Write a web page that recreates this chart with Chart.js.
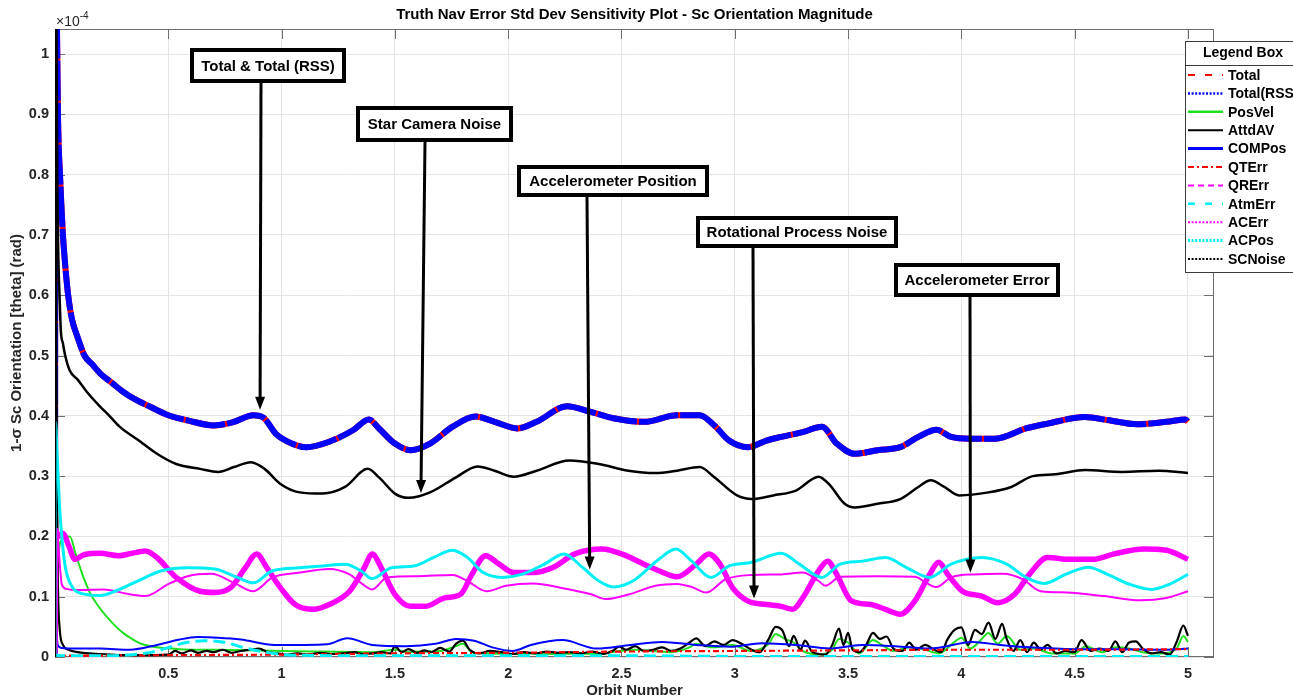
<!DOCTYPE html>
<html>
<head>
<meta charset="utf-8">
<script src="https://cdn.jsdelivr.net/npm/chart.js@4.4.1/dist/chart.umd.min.js"></script>
<style>
  html, body { margin: 0; padding: 0; background: #fff; overflow: hidden; }
  #wrap { position: relative; width: 1293px; height: 698px; }
</style>
</head>
<body>
<div id="wrap"><canvas id="c" width="1293" height="698"></canvas></div>
<script>
// ---- tick labels (orientation std dev in units of 1e-4 rad) ----
const xTicks = [0.5, 1, 1.5, 2, 2.5, 3, 3.5, 4, 4.5, 5];
const yTicks = [0, 0.1, 0.2, 0.3, 0.4, 0.5, 0.6, 0.7, 0.8, 0.9, 1];

// ---- Total / Total(RSS) ----
const totalX = [0, 0.002, 0.006, 0.01, 0.013, 0.017, 0.022, 0.028, 0.035, 0.045, 0.058, 0.075, 0.1, 0.13, 0.165, 0.2, 0.25, 0.3, 0.35, 0.42,
  0.5, 0.59, 0.7, 0.79, 0.875, 0.92, 0.975, 1.045, 1.11, 1.21, 1.315, 1.385, 1.43, 1.5, 1.57, 1.655, 1.755, 1.855, 1.94, 2.04,
  2.125, 2.26, 2.36, 2.465, 2.6, 2.745, 2.845, 2.91, 2.975, 3.057, 3.14, 3.205, 3.3, 3.385, 3.45, 3.53, 3.63, 3.73, 3.81, 3.89,
  3.955, 4.04, 4.15, 4.285, 4.38, 4.545, 4.645, 4.775, 4.905, 4.99, 5.0];
const totalY = [0, 1.4, 1.15, 1.0, 0.9, 0.84, 0.8, 0.75, 0.7, 0.65, 0.6, 0.56, 0.53, 0.5, 0.485, 0.47, 0.455, 0.44, 0.428, 0.415,
  0.401, 0.392, 0.384, 0.39, 0.401, 0.397, 0.37, 0.354, 0.348, 0.357, 0.376, 0.394, 0.379, 0.354, 0.343, 0.354, 0.382, 0.399, 0.39, 0.379,
  0.39, 0.416, 0.407, 0.396, 0.39, 0.401, 0.401, 0.384, 0.359, 0.348, 0.359, 0.365, 0.373, 0.382, 0.354, 0.337, 0.343, 0.348, 0.365, 0.377,
  0.365, 0.362, 0.362, 0.379, 0.387, 0.398, 0.393, 0.386, 0.39, 0.394, 0.39];

// ---- PosVel ----
const posVelX = [0.002, 0.02, 0.04, 0.066, 0.09, 0.12, 0.155, 0.19, 0.23, 0.27, 0.3, 0.34, 0.38, 0.45, 0.55, 0.7, 0.85, 1.0, 1.2, 1.4,
  1.5, 1.56, 1.62, 1.7, 1.77, 1.8, 1.84, 1.9, 2.0, 2.1, 2.2, 2.3, 2.4, 2.49, 2.56, 2.64, 2.72, 2.8, 2.83, 2.9,
  2.99, 3.07, 3.15, 3.18, 3.22, 3.26, 3.3, 3.37, 3.43, 3.46, 3.5, 3.55, 3.61, 3.65, 3.7, 3.77, 3.84, 3.9, 3.97, 4.0,
  4.04, 4.09, 4.12, 4.16, 4.2, 4.26, 4.32, 4.4, 4.5, 4.55, 4.62, 4.68, 4.74, 4.8, 4.88, 4.95, 4.98, 5.0];
const posVelY = [0.1, 0.185, 0.198, 0.2, 0.172, 0.138, 0.106, 0.085, 0.066, 0.05, 0.04, 0.03, 0.022, 0.016, 0.013, 0.012, 0.011, 0.01, 0.009, 0.008,
  0.012, 0.008, 0.009, 0.01, 0.018, 0.022, 0.008, 0.006, 0.005, 0.006, 0.005, 0.006, 0.005, 0.01, 0.012, 0.01, 0.008, 0.016, 0.022, 0.016,
  0.02, 0.01, 0.022, 0.038, 0.03, 0.024, 0.01, 0.004, 0.012, 0.03, 0.024, 0.006, 0.028, 0.02, 0.01, 0.016, 0.012, 0.006, 0.025, 0.032,
  0.014, 0.03, 0.04, 0.022, 0.035, 0.012, 0.014, 0.006, 0.006, 0.018, 0.008, 0.016, 0.014, 0.008, 0.006, 0.014, 0.035, 0.025];

// ---- AttdAV ----
const attdX = [0, 0.002, 0.006, 0.012, 0.02, 0.035, 0.06, 0.1, 0.2, 0.35,
  0.5, 0.53, 0.56, 0.6, 0.63, 0.67, 0.7, 0.74, 0.78, 0.82,
  0.86, 0.9, 0.94, 0.98, 1.02, 1.07, 1.12, 1.17, 1.22, 1.27,
  1.32, 1.36, 1.4, 1.44, 1.48, 1.5, 1.53, 1.56, 1.6, 1.63,
  1.66, 1.7, 1.74, 1.77, 1.8, 1.83, 1.87, 1.92, 1.97, 2.02,
  2.07, 2.12, 2.17, 2.22, 2.27, 2.32, 2.37, 2.42, 2.46, 2.49,
  2.52, 2.56, 2.6, 2.64, 2.68, 2.72, 2.76, 2.8, 2.83, 2.87,
  2.91, 2.95, 2.99, 3.03, 3.07, 3.11, 3.15, 3.18, 3.21, 3.24,
  3.26, 3.29, 3.31, 3.34, 3.37, 3.4, 3.43, 3.46, 3.48, 3.5,
  3.52, 3.55, 3.58, 3.61, 3.64, 3.67, 3.7, 3.74, 3.77, 3.8,
  3.84, 3.88, 3.91, 3.94, 3.97, 4.0, 4.03, 4.06, 4.09, 4.12,
  4.15, 4.18, 4.2, 4.23, 4.26, 4.29, 4.32, 4.35, 4.38, 4.42,
  4.46, 4.5, 4.53, 4.57, 4.61, 4.65, 4.68, 4.71, 4.74, 4.77,
  4.8, 4.84, 4.88, 4.92, 4.95, 4.98, 5.0];
const attdY = [0, 1.3, 0.5, 0.15, 0.05, 0.02, 0.012, 0.008, 0.005, 0.003,
  0.004, 0.01, 0.006, 0.011, 0.007, 0.01, 0.008, 0.012, 0.007, 0.01,
  0.012, 0.014, 0.008, 0.006, 0.004, 0.006, 0.004, 0.007, 0.005, 0.006,
  0.008, 0.005, 0.006, 0.008, 0.006, 0.018, 0.008, 0.013, 0.007, 0.011,
  0.008, 0.015, 0.009, 0.022, 0.027, 0.012, 0.006, 0.01, 0.008, 0.005,
  0.008, 0.006, 0.009, 0.007, 0.008, 0.006, 0.009, 0.005, 0.01, 0.017,
  0.012, 0.018, 0.01, 0.012, 0.016, 0.01, 0.014, 0.024, 0.031, 0.018,
  0.026, 0.02, 0.028, 0.022, 0.013, 0.008, 0.03, 0.05, 0.044, 0.018,
  0.035, 0.012, 0.027, 0.009, 0.005, 0.004, 0.02, 0.047, 0.02, 0.04,
  0.012, 0.008, 0.02, 0.04, 0.03, 0.034, 0.014, 0.01, 0.024, 0.012,
  0.02, 0.012, 0.008, 0.03, 0.045, 0.049, 0.02, 0.045, 0.038, 0.057,
  0.03, 0.055, 0.03, 0.01, 0.028, 0.008, 0.024, 0.012, 0.02, 0.006,
  0.01, 0.008, 0.028, 0.01, 0.014, 0.01, 0.026, 0.008, 0.024, 0.026,
  0.014, 0.006, 0.008, 0.004, 0.025, 0.052, 0.035];

// ---- COMPos ----
const comX = [0, 0.003, 0.012, 0.03, 0.1, 0.2, 0.33, 0.45, 0.55, 0.63, 0.72, 0.82, 0.97, 1.1, 1.2, 1.29, 1.4, 1.55, 1.68, 1.77,
  1.85, 1.93, 2.02, 2.1, 2.24, 2.39, 2.54, 2.68, 2.83, 2.98, 3.12, 3.27, 3.42, 3.56, 3.71, 3.86, 4.05, 4.17, 4.3, 4.5,
  4.7, 4.9, 5.0];
const comY = [0, 0.05, 0.02, 0.015, 0.014, 0.014, 0.012, 0.02, 0.029, 0.033, 0.032, 0.029, 0.02, 0.02, 0.021, 0.031, 0.02, 0.018, 0.022, 0.03,
  0.027, 0.016, 0.01, 0.02, 0.028, 0.014, 0.02, 0.025, 0.02, 0.017, 0.023, 0.02, 0.014, 0.02, 0.018, 0.014, 0.025, 0.02, 0.016, 0.013,
  0.013, 0.012, 0.014];

// ---- QTErr ----
const qtX = [0, 0.5, 1, 1.5, 2, 2.5, 3, 3.5, 4, 4.5, 5];
const qtY = [0.002, 0.003, 0.004, 0.006, 0.007, 0.009, 0.01, 0.011, 0.012, 0.012, 0.013];

// ---- QRErr ----
const qrX = [0, 0.004, 0.015, 0.035, 0.06, 0.088, 0.13, 0.2, 0.28, 0.34, 0.4, 0.45, 0.535, 0.64, 0.705, 0.775, 0.84, 0.89, 0.935, 0.995,
  1.06, 1.14, 1.21, 1.3, 1.365, 1.4, 1.44, 1.5, 1.57, 1.635, 1.72, 1.79, 1.84, 1.9, 1.96, 2.025, 2.11, 2.195, 2.295, 2.415,
  2.5, 2.6, 2.665, 2.745, 2.83, 2.885, 2.935, 2.99, 3.057, 3.14, 3.205, 3.255, 3.3, 3.37, 3.41, 3.45, 3.515, 3.6, 3.665, 3.73,
  3.795, 3.86, 3.9, 3.94, 4.005, 4.09, 4.16, 4.235, 4.3, 4.38, 4.48, 4.58, 4.675, 4.805, 4.905, 5.0];
const qrY = [0, 0.21, 0.2, 0.205, 0.185, 0.162, 0.17, 0.172, 0.168, 0.172, 0.176, 0.165, 0.132, 0.109, 0.107, 0.115, 0.148, 0.171, 0.148, 0.115,
  0.087, 0.079, 0.087, 0.109, 0.148, 0.171, 0.148, 0.104, 0.084, 0.084, 0.098, 0.104, 0.137, 0.168, 0.154, 0.14, 0.14, 0.148, 0.171, 0.179,
  0.171, 0.154, 0.143, 0.133, 0.154, 0.171, 0.154, 0.115, 0.093, 0.087, 0.084, 0.079, 0.098, 0.143, 0.159, 0.137, 0.093, 0.087, 0.079, 0.071,
  0.093, 0.137, 0.157, 0.137, 0.109, 0.101, 0.09, 0.104, 0.137, 0.165, 0.162, 0.162, 0.171, 0.179, 0.177, 0.162];

// ---- AtmErr ----
const atmX = [0, 0.003, 0.01, 0.05, 0.2, 0.35, 0.45, 0.52, 0.58, 0.66, 0.74, 0.84, 0.93, 1.05, 1.5, 2, 2.5, 3, 3.5, 4, 4.5, 5];
const atmY = [0, 0.004, 0.003, 0.002, 0.002, 0.004, 0.01, 0.018, 0.024, 0.027, 0.025, 0.015, 0.008, 0.003, 0.002, 0.002, 0.002, 0.001, 0.001, 0.001, 0.001, 0.001];

// ---- ACErr ----
const acErrX = [0, 0.004, 0.012, 0.02, 0.03, 0.05, 0.1, 0.215, 0.33, 0.4, 0.5, 0.585, 0.69, 0.79, 0.875, 0.96, 1.08, 1.21, 1.3, 1.35,
  1.4, 1.465, 1.6, 1.755, 1.82, 1.905, 1.99, 2.11, 2.23, 2.365, 2.43, 2.535, 2.65, 2.745, 2.81, 2.875, 2.96, 3.075, 3.205, 3.3,
  3.37, 3.4, 3.465, 3.63, 3.795, 3.845, 3.89, 3.955, 4.055, 4.185, 4.27, 4.35, 4.465, 4.63, 4.79, 4.905, 5.0];
const acErrY = [0, 0.21, 0.2, 0.16, 0.12, 0.113, 0.111, 0.112, 0.104, 0.101, 0.121, 0.134, 0.138, 0.123, 0.109, 0.132, 0.14, 0.146, 0.137, 0.123,
  0.112, 0.132, 0.134, 0.136, 0.126, 0.109, 0.118, 0.122, 0.115, 0.104, 0.096, 0.104, 0.118, 0.121, 0.116, 0.107, 0.129, 0.136, 0.137, 0.14,
  0.126, 0.118, 0.133, 0.134, 0.133, 0.123, 0.116, 0.132, 0.137, 0.138, 0.129, 0.109, 0.107, 0.101, 0.094, 0.098, 0.109];

// ---- ACPos ----
const acPosX = [0, 0.002, 0.01, 0.02, 0.03, 0.045, 0.07, 0.12, 0.2, 0.265, 0.365, 0.47, 0.585, 0.705, 0.805, 0.875, 0.96, 1.08, 1.18, 1.28,
  1.35, 1.4, 1.485, 1.585, 1.67, 1.755, 1.82, 1.89, 1.975, 2.06, 2.16, 2.245, 2.33, 2.4, 2.465, 2.55, 2.665, 2.74, 2.81, 2.895,
  2.975, 3.075, 3.205, 3.285, 3.385, 3.465, 3.565, 3.665, 3.76, 3.86, 3.955, 4.09, 4.2, 4.285, 4.365, 4.46, 4.56, 4.645, 4.74, 4.84,
  4.92, 5.0];
const acPosY = [0, 0.39, 0.33, 0.25, 0.2, 0.15, 0.12, 0.105, 0.102, 0.109, 0.126, 0.143, 0.148, 0.146, 0.132, 0.123, 0.143, 0.148, 0.151, 0.154,
  0.143, 0.13, 0.148, 0.151, 0.165, 0.177, 0.165, 0.14, 0.132, 0.137, 0.154, 0.171, 0.148, 0.126, 0.116, 0.126, 0.162, 0.179, 0.159, 0.132,
  0.151, 0.157, 0.172, 0.154, 0.132, 0.154, 0.159, 0.165, 0.148, 0.132, 0.154, 0.165, 0.154, 0.132, 0.122, 0.137, 0.149, 0.137, 0.121, 0.112,
  0.121, 0.137];

// ---- SCNoise ----
const scX = [0, 0.002, 0.006, 0.01, 0.015, 0.02, 0.026, 0.035, 0.045, 0.065, 0.1, 0.14, 0.2, 0.24, 0.285, 0.37, 0.45, 0.535, 0.64, 0.72,
  0.79, 0.865, 0.925, 0.995, 1.08, 1.18, 1.28, 1.38, 1.43, 1.5, 1.56, 1.655, 1.77, 1.865, 1.94, 2.025, 2.125, 2.27, 2.4, 2.53,
  2.65, 2.745, 2.845, 2.91, 3.01, 3.075, 3.17, 3.27, 3.37, 3.415, 3.485, 3.53, 3.63, 3.73, 3.81, 3.865, 3.925, 3.99, 4.12, 4.22,
  4.315, 4.415, 4.545, 4.71, 4.87, 5.0];
const scY = [0, 1.4, 1.1, 0.8, 0.66, 0.6, 0.54, 0.52, 0.5, 0.475, 0.46, 0.44, 0.415, 0.4, 0.382, 0.359, 0.337, 0.32, 0.312, 0.307,
  0.315, 0.323, 0.312, 0.287, 0.273, 0.271, 0.282, 0.312, 0.298, 0.271, 0.264, 0.273, 0.298, 0.316, 0.309, 0.299, 0.309, 0.326, 0.32, 0.309,
  0.305, 0.309, 0.315, 0.298, 0.268, 0.262, 0.268, 0.276, 0.299, 0.287, 0.254, 0.248, 0.254, 0.262, 0.282, 0.293, 0.282, 0.268, 0.273, 0.282,
  0.3, 0.303, 0.31, 0.307, 0.309, 0.305];

// ---- callout labels and the points they mark (data units) ----
const calloutLabels = ['Total & Total (RSS)', 'Star Camera Noise', 'Accelerometer Position', 'Rotational Process Noise', 'Accelerometer Error'];
const calloutTargetX = [0.905, 1.615, 2.36, 3.085, 4.04];
const calloutTargetY = [0.41, 0.272, 0.145, 0.097, 0.14];

// ---- drawing styles ----
const FONT = '"Liberation Sans", Arial, Helvetica, sans-serif';
const INK = '#262626';
const RED = '#ff0000', BLUE = '#0000ff', GREEN = '#1fe01f', BLACK = '#000000', MAGENTA = '#ff00ff', CYAN = '#00eef5';
const DOT = [2, 1.6];

const series = [
  { name: 'Total',      xs: totalX,  ys: totalY,  color: RED,     width: 6,   dash: [],        lDash: [7, 10],      lWidth: 2 },
  { name: 'Total(RSS)', xs: totalX,  ys: totalY,  color: BLUE,    width: 6,   dash: [40, 2],   lDash: DOT,          lWidth: 2.5 },
  { name: 'PosVel',     xs: posVelX, ys: posVelY, color: GREEN,   width: 2,   dash: [],        lDash: [],           lWidth: 2.5 },
  { name: 'AttdAV',     xs: attdX,   ys: attdY,   color: BLACK,   width: 2.2, dash: [],        lDash: [],           lWidth: 2 },
  { name: 'COMPos',     xs: comX,    ys: comY,    color: BLUE,    width: 2,   dash: [],        lDash: [],           lWidth: 3 },
  { name: 'QTErr',      xs: qtX,     ys: qtY,     color: RED,     width: 2.2, dash: [6, 3, 2, 3], lDash: [6, 3, 2, 3], lWidth: 2 },
  { name: 'QRErr',      xs: qrX,     ys: qrY,     color: MAGENTA, width: 5.5, dash: [],        lDash: [6, 4],       lWidth: 2 },
  { name: 'AtmErr',     xs: atmX,    ys: atmY,    color: CYAN,    width: 3,   dash: [12, 6],   lDash: [7, 10],      lWidth: 2.5 },
  { name: 'ACErr',      xs: acErrX,  ys: acErrY,  color: MAGENTA, width: 2,   dash: [],        lDash: DOT,          lWidth: 2 },
  { name: 'ACPos',      xs: acPosX,  ys: acPosY,  color: CYAN,    width: 3,   dash: [],        lDash: DOT,          lWidth: 3 },
  { name: 'SCNoise',    xs: scX,     ys: scY,     color: BLACK,   width: 2.5, dash: [],        lDash: DOT,          lWidth: 2 }
];

const datasets = series.map((s, i) => ({
  label: s.name,
  data: s.xs.map((x, k) => ({ x: x, y: s.ys[k] })),
  borderColor: s.color,
  borderWidth: s.width,
  borderDash: s.dash,
  cubicInterpolationMode: 'monotone',
  pointRadius: 0,
  fill: false,
  order: series.length - i
}));

const fmt = v => String(Math.round(v * 10) / 10);

// box, ticks, callouts, legend box, title
const decorations = {
  id: 'decorations',
  beforeDatasetsDraw(chart) {
    const { ctx, chartArea: a, scales: { x, y } } = chart;
    ctx.save();
    ctx.strokeStyle = '#6e6e6e';
    ctx.lineWidth = 1;
    ctx.strokeRect(a.left + 0.5, a.top + 0.5, a.right - a.left - 1, a.bottom - a.top - 1);
    ctx.beginPath();
    xTicks.forEach(v => {
      const p = Math.round(x.getPixelForValue(v)) + 0.5;
      ctx.moveTo(p, a.top); ctx.lineTo(p, a.top + 10);
      ctx.moveTo(p, a.bottom); ctx.lineTo(p, a.bottom - 10);
    });
    yTicks.forEach(v => {
      const p = Math.round(y.getPixelForValue(v)) + 0.5;
      ctx.moveTo(a.left, p); ctx.lineTo(a.left + 10, p);
      ctx.moveTo(a.right, p); ctx.lineTo(a.right - 10, p);
    });
    ctx.stroke();
    ctx.restore();
  },
  afterDatasetsDraw(chart) {
    const { ctx, scales: { x, y } } = chart;
    const boxes = [[190, 48, 156, 35], [356, 106, 157, 36], [517, 165, 192, 32], [696, 216, 202, 32], [894, 263, 166, 34]];
    const stemX = [261, 425, 587, 753, 970];
    ctx.save();
    calloutLabels.forEach((label, i) => {
      const [bx, by, bw, bh] = boxes[i];
      const tx = x.getPixelForValue(calloutTargetX[i]);
      const ty = y.getPixelForValue(calloutTargetY[i]);
      const sx = stemX[i], sy = by + bh;
      // arrow shaft
      const ang = Math.atan2(ty - sy, tx - sx);
      const headLen = 13, headHalf = 5;
      ctx.strokeStyle = '#000';
      ctx.lineWidth = 3;
      ctx.beginPath();
      ctx.moveTo(sx, sy);
      ctx.lineTo(tx - Math.cos(ang) * (headLen - 2), ty - Math.sin(ang) * (headLen - 2));
      ctx.stroke();
      // arrow head
      ctx.fillStyle = '#000';
      ctx.beginPath();
      ctx.moveTo(tx, ty);
      ctx.lineTo(tx - Math.cos(ang) * headLen - Math.sin(ang) * headHalf, ty - Math.sin(ang) * headLen + Math.cos(ang) * headHalf);
      ctx.lineTo(tx - Math.cos(ang) * headLen + Math.sin(ang) * headHalf, ty - Math.sin(ang) * headLen - Math.cos(ang) * headHalf);
      ctx.closePath();
      ctx.fill();
      // label box
      ctx.fillStyle = '#fff';
      ctx.fillRect(bx, by, bw, bh);
      ctx.lineWidth = 4;
      ctx.strokeRect(bx + 2, by + 2, bw - 4, bh - 4);
      ctx.fillStyle = '#000';
      ctx.font = 'bold 15px ' + FONT;
      ctx.textAlign = 'center';
      ctx.textBaseline = 'middle';
      ctx.fillText(label, bx + bw / 2, by + bh / 2 + 1);
    });
    ctx.restore();
  },
  afterDraw(chart) {
    const { ctx, chartArea: a } = chart;
    ctx.save();
    // legend box
    const lx = 1185, ly = 41, lw = 118, lh = 231;
    ctx.fillStyle = '#fff';
    ctx.fillRect(lx, ly, lw, lh);
    ctx.strokeStyle = '#3a3a3a';
    ctx.lineWidth = 1;
    ctx.strokeRect(lx + 0.5, ly + 0.5, lw, lh);
    ctx.beginPath();
    ctx.moveTo(lx, ly + 24.5); ctx.lineTo(lx + lw, ly + 24.5);
    ctx.stroke();
    ctx.fillStyle = '#000';
    ctx.font = 'bold 14px ' + FONT;
    ctx.textAlign = 'center';
    ctx.textBaseline = 'middle';
    ctx.fillText('Legend Box', lx + 58, ly + 12.5);
    ctx.textAlign = 'left';
    series.forEach((s, i) => {
      const yy = 75 + i * 18.4;
      ctx.strokeStyle = s.color;
      ctx.lineWidth = s.lWidth;
      ctx.setLineDash(s.lDash);
      ctx.beginPath();
      ctx.moveTo(lx + 3, yy); ctx.lineTo(lx + 38, yy);
      ctx.stroke();
      ctx.setLineDash([]);
      ctx.fillStyle = '#000';
      ctx.fillText(s.name, lx + 43, yy + 1);
    });
    // title
    ctx.fillStyle = '#000';
    ctx.font = 'bold 15px ' + FONT;
    ctx.textAlign = 'center';
    ctx.fillText('Truth Nav Error Std Dev Sensitivity Plot - Sc Orientation Magnitude', (a.left + a.right) / 2, 15);
    // axis exponent
    ctx.fillStyle = INK;
    ctx.textAlign = 'left';
    ctx.textBaseline = 'alphabetic';
    ctx.font = '14px ' + FONT;
    ctx.fillText('\u00d710', a.left + 1, 26);
    const w = ctx.measureText('\u00d710').width;
    ctx.font = '10px ' + FONT;
    ctx.fillText('-4', a.left + 1 + w, 19);
    ctx.restore();
  }
};

Chart.defaults.font.family = FONT;

new Chart(document.getElementById('c'), {
  type: 'line',
  data: { datasets: datasets },
  options: {
    responsive: false,
    animation: false,
    devicePixelRatio: 1,
    layout: { padding: { top: 29, right: 79, left: 0, bottom: 0 } },
    plugins: { legend: { display: false }, tooltip: { enabled: false }, title: { display: false } },
    elements: { point: { radius: 0 } },
    scales: {
      x: {
        type: 'linear', min: 0, max: 5.115,
        afterBuildTicks: s => { s.ticks = xTicks.map(v => ({ value: v })); },
        afterFit: s => { s.height = 41; },
        grid: { color: '#e4e4e4', drawTicks: false },
        border: { display: false },
        ticks: { padding: 8, color: INK, autoSkip: false, maxRotation: 0, font: { size: 14.5, weight: 'bold' }, callback: v => fmt(v) },
        title: { display: true, text: 'Orbit Number', color: INK, font: { size: 15, weight: 'bold', lineHeight: 1 }, padding: { top: 0, bottom: 0 } }
      },
      y: {
        type: 'linear', min: 0, max: 1.0415,
        afterBuildTicks: s => { s.ticks = yTicks.map(v => ({ value: v })); },
        afterFit: s => { s.width = 55; },
        grid: { color: '#e4e4e4', drawTicks: false },
        border: { display: false },
        ticks: { padding: 6, color: INK, autoSkip: false, font: { size: 14.5, weight: 'bold' }, callback: v => fmt(v) },
        title: { display: true, text: '1-\u03c3 Sc Orientation [theta] (rad)', color: INK, font: { size: 15, weight: 'bold' }, padding: { top: 8, bottom: 0 } }
      }
    }
  },
  plugins: [decorations]
});
</script>
</body>
</html>
